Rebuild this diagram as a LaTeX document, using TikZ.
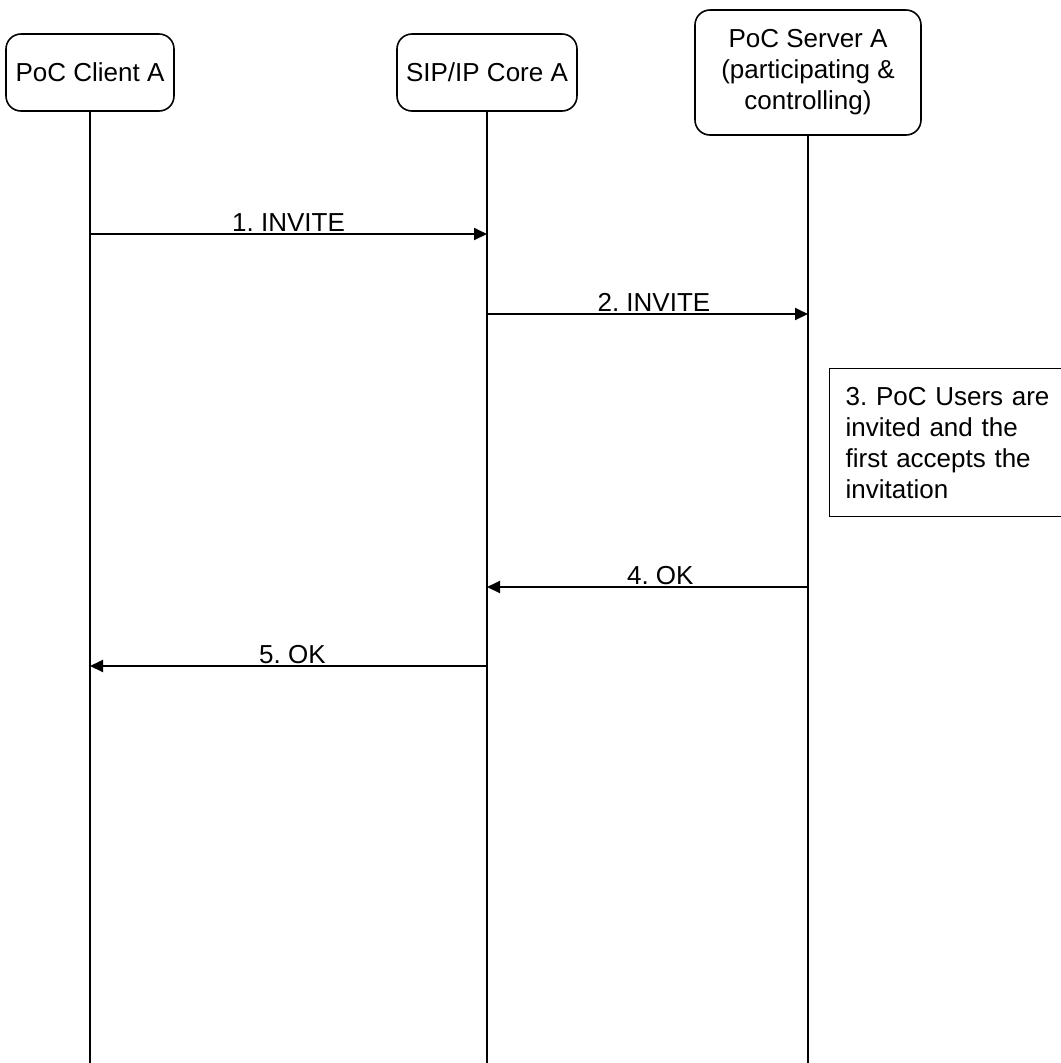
\documentclass[tikz,border=0pt]{standalone}
\usepackage{fontspec}
\setmainfont{Liberation Sans}
\usepackage{tikz}
\usetikzlibrary{arrows.meta,positioning}
\frenchspacing

\begin{document}
\begin{tikzpicture}[
  font=\fontsize{14.8}{17.6}\selectfont,
  entity/.style={draw,line width=0.9pt,rounded corners=3mm,minimum height=15.4mm,align=center,inner sep=1pt},
  lifeline/.style={line width=1.1pt},
  msg/.style={-{Triangle[length=2.6mm,width=2.4mm]},line width=1.1pt},
  msglabel/.style={above,inner sep=0.8pt},
  note/.style={draw,line width=0.8pt,text width=42.8mm,align=left,inner xsep=3.2mm,minimum height=29.6mm}
]
\useasboundingbox (0,0) rectangle (21.22,-21.26);

\node[entity,minimum width=33.6mm] (client) at (1.80,-1.45) {PoC Client A};
\node[entity,minimum width=36mm] (core) at (9.74,-1.45) {SIP/IP Core A};
\node[entity,minimum width=45.2mm,minimum height=25mm] (server) at (16.16,-1.45) {PoC Server A\\(participating \&\\controlling)};

\coordinate (clientend) at (client |- 0,-21.26);
\coordinate (coreend) at (core |- 0,-21.26);
\coordinate (serverend) at (server |- 0,-21.26);
\draw[lifeline] (client) -- (clientend);
\draw[lifeline] (core) -- (coreend);
\draw[lifeline] (server) -- (serverend);

\draw[msg] (client |- 0,-4.68) -- node[msglabel]{1. INVITE} (core |- 0,-4.68);
\draw[msg] (core |- 0,-6.28) -- node[msglabel,pos=.52]{2. INVITE} (server |- 0,-6.28);
\node[note,anchor=north west] (accept) at (16.58,-7.36) {3. PoC Users are\\invited and the\\first accepts the\\invitation};
\draw[msg] (server |- 0,-11.74) -- node[msglabel,pos=.46]{4. OK} (core |- 0,-11.74);
\draw[msg] (core |- 0,-13.32) -- node[msglabel,pos=.49]{5. OK} (client |- 0,-13.32);
\end{tikzpicture}
\end{document}
